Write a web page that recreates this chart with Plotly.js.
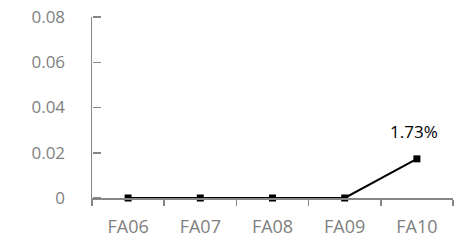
<!DOCTYPE html>
<html>
<head>
<meta charset="utf-8">
<script src="https://cdn.plot.ly/plotly-3.0.1.min.js"></script>
<style>html,body{margin:0;padding:0;background:#fff;}#chart{width:468px;height:244px;}</style>
</head>
<body>
<div id="chart"></div>
<script>
const categories = ["FA06", "FA07", "FA08", "FA09", "FA10"];
const values = [0, 0, 0, 0, 0.0173];
const pointLabels = ["", "", "", "", "1.73%"];
const yTicks = [0, 0.02, 0.04, 0.06, 0.08];
const yTickText = ["0", "0.02", "0.04", "0.06", "0.08"];

const trace = {
  x: categories,
  y: values,
  type: "scatter",
  mode: "lines+markers",
  cliponaxis: false,
  line: {color: "#000000", width: 2},
  marker: {symbol: "square", size: 7, color: "#000000"},
  hoverinfo: "skip"
};

// invisible companion trace so the tick-only axis (ticks pointing into the plot) is drawn
const tickTrace = {
  x: categories, y: values, yaxis: "y2",
  type: "scatter", mode: "lines", opacity: 0,
  line: {width: 0}, hoverinfo: "skip", showlegend: false
};

const annotations = categories.map((c, i) => ({
  x: c, y: values[i], text: pointLabels[i], showarrow: false,
  yshift: 27, xshift: -3,
  font: {family: "Open Sans", size: 17, color: "#000000"}
})).filter(a => a.text);

const layout = {
  width: 468, height: 244,
  margin: {l: 92, r: 15, t: 17, b: 46},
  paper_bgcolor: "#ffffff", plot_bgcolor: "rgba(0,0,0,0)",
  showlegend: false,
  font: {family: "Open Sans", size: 17, color: "#7f7f7f"},
  xaxis: {
    type: "category",
    range: [-0.5, 4.5],
    showgrid: false, zeroline: false,
    showline: true, linecolor: "#868686", linewidth: 1.5,
    ticks: "outside", tickson: "boundaries", ticklen: 6, tickcolor: "#868686", tickwidth: 1.5,
    ticklabelstandoff: 12,
    tickfont: {family: "Open Sans", size: 18, color: "#7f7f7f"}
  },
  yaxis: {
    range: [0, 0.08],
    tickmode: "array",
    tickvals: yTicks, ticktext: yTickText,
    showgrid: false, zeroline: false,
    showline: true, linecolor: "#868686", linewidth: 1.5,
    ticks: "",
    ticklabelstandoff: 22,
    tickfont: {family: "Open Sans", size: 17, color: "#7f7f7f"}
  },
  yaxis2: {
    overlaying: "y", side: "right", anchor: "free", position: 0,
    range: [0, 0.08],
    tickmode: "array", tickvals: yTicks,
    showticklabels: false, showgrid: false, zeroline: false, showline: false,
    ticks: "outside", ticklen: 8, tickcolor: "#868686", tickwidth: 1.5
  },
  annotations: annotations
};

Plotly.newPlot("chart", [tickTrace, trace], layout, {displayModeBar: false, staticPlot: true});
</script>
</body>
</html>
